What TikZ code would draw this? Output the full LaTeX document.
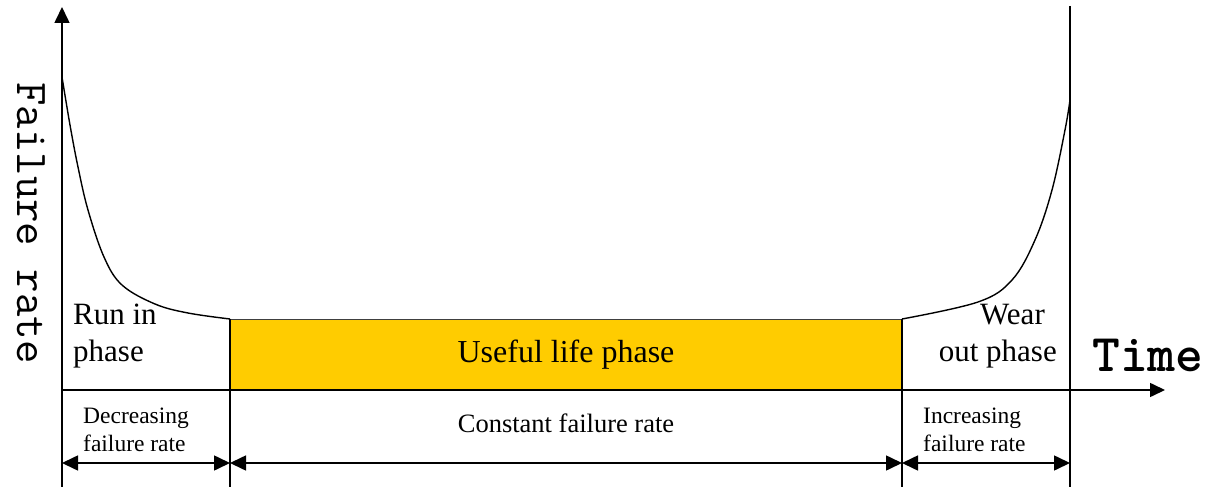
\documentclass[tikz,border=0pt]{standalone}
\usepackage{fontspec}
\setmainfont{Liberation Serif}
\usepackage{xcolor}
\usepackage{tikz}
\usetikzlibrary{arrows.meta,calc,positioning}
\definecolor{lifeyellow}{HTML}{FFCC00}

\begin{document}
\begin{tikzpicture}[x=1pt,y=-1pt,>={Triangle[length=16pt,width=15pt]}]
 \tikzset{axis/.style={->,line width=1.6pt},
          rule/.style={line width=1.6pt},
          span/.style={<->,line width=1.6pt},
          curve/.style={line width=1.4pt},
          lifebox/.style={fill=lifeyellow,draw=black!75,line width=1pt,minimum width=672pt,minimum height=71pt,inner sep=0pt},
          phase/.style={font=\fontsize{31}{37}\selectfont,inner sep=0pt},
          rate/.style={font=\fontsize{23.5}{28}\selectfont,inner sep=0pt,align=left}}
 \useasboundingbox (0,0) rectangle (1216,487);
 % points of the frame
 \coordinate (ybot) at (62,487);  \coordinate (ytop) at (62,7);
 \coordinate (o) at (62,390);     \coordinate (xend) at (1165,390);
 \coordinate (runend) at (230,319);  \coordinate (runbot) at (230,487);
 \coordinate (wearbeg) at (902,319); \coordinate (wearbot) at (902,487);
 \coordinate (endtop) at (1070,6);   \coordinate (endbot) at (1070,487);
 \coordinate (s0) at (62,463);  \coordinate (s1) at (230,463);
 \coordinate (s2) at (902,463); \coordinate (s3) at (1070,463);
 % useful life band
 \node[lifebox,font=\fontsize{32}{38}\selectfont] (useful) at (566,354.5) {Useful life phase};
 % axes and phase borders
 \draw[axis] (ybot) -- (ytop);
 \draw[axis,>={Triangle[length=15pt,width=14pt]}] (o) -- (xend);
 \draw[rule] (runend) -- (runbot);
 \draw[rule] (wearbeg) -- (wearbot);
 \draw[rule] (endtop) -- (endbot);
 % bathtub curve
 \draw[curve] plot[smooth,tension=0.6] coordinates {(62,77) (70,125) (78,167) (88,210) (104,257) (122,285) (155,304) (188,313) (230,319)};
 \draw[curve] plot[smooth,tension=0.6] coordinates {(902,319) (978,302) (1012,280) (1035,240) (1052,190) (1065,130) (1070,100)};
 % spans
 \draw[span] (s0) -- (s1);
 \draw[span] (s1) -- (s2);
 \draw[span] (s2) -- (s3);
 % labels
 \node[phase,align=left,anchor=north west] (runin) at (73,304) {Run in\\phase};
 \node[phase,align=right,anchor=north east] (wearout) at (1057,304) {Wear\rule{12pt}{0pt}\\out phase};
 \node[rate,anchor=north west] (decr) at (83,408) {Decreasing\\failure rate};
 \node[rate,anchor=north west] (incr) at (923,408) {Increasing\\failure rate};
 \node[inner sep=0pt,anchor=base,font=\fontsize{26.5}{30}\selectfont] (const) at (566,432) {Constant failure rate};
 \node[inner sep=0pt,rotate=-90,font=\ttfamily\fontsize{45.5}{46}\selectfont] (ylab) at (31,223) {Failure rate};
 \node[inner sep=0pt,anchor=base west,font=\ttfamily\bfseries\fontsize{53}{53}\selectfont] (xlab) at (1092,371) {Time};
\end{tikzpicture}
\end{document}
